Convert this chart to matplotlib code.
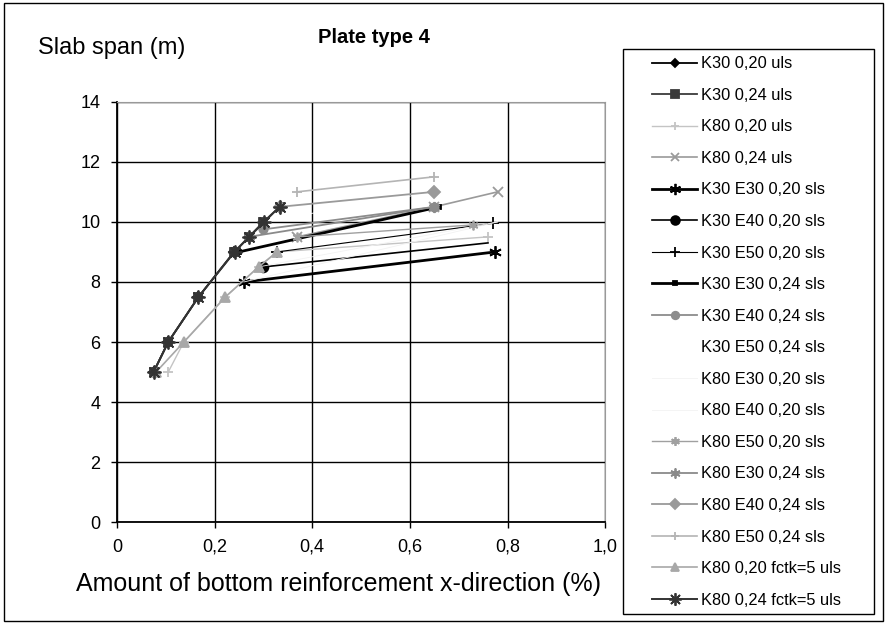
import matplotlib
matplotlib.use("Agg")
import matplotlib.pyplot as plt
from matplotlib.patches import Rectangle

plt.rcParams['font.family'] = ['Liberation Sans', 'DejaVu Sans']

# series data (x = reinforcement %, y = span m)
names = ["K30 0,20 uls", "K30 0,24 uls", "K80 0,20 uls", "K80 0,24 uls",
         "K30 E30 0,20 sls", "K30 E40 0,20 sls", "K30 E50 0,20 sls",
         "K30 E30 0,24 sls", "K30 E40 0,24 sls", "K30 E50 0,24 sls",
         "K80 E30 0,20 sls", "K80 E40 0,20 sls", "K80 E50 0,20 sls",
         "K80 E30 0,24 sls", "K80 E40 0,24 sls", "K80 E50 0,24 sls",
         "K80 0,20 fctk=5 uls", "K80 0,24 fctk=5 uls"]

xs = [
    [0.075, 0.105, 0.167, 0.24],
    [0.075, 0.105, 0.167, 0.24, 0.27, 0.30, 0.333],
    [0.105, 0.137, 0.222, 0.29, 0.328, 0.76],
    [0.369, 0.65, 0.78],
    [0.26, 0.775],
    [0.30, 0.76],
    [0.328, 0.77],
    [0.25, 0.66],
    [0.30, 0.65],
    [0.30, 0.65],
    [0.26, 0.78],
    [0.29, 0.78],
    [0.369, 0.73],
    [0.27, 0.65],
    [0.333, 0.65],
    [0.369, 0.65],
    [0.08, 0.137, 0.222, 0.29, 0.328],
    [0.075, 0.105, 0.167, 0.241, 0.271, 0.302, 0.333],
]
ys = [
    [5, 6, 7.5, 9],
    [5, 6, 7.5, 9, 9.5, 10, 10.5],
    [5, 6, 7.5, 8.5, 9, 9.5],
    [9.5, 10.5, 11],
    [8, 9],
    [8.5, 9.3],
    [9, 9.95],
    [9, 10.5],
    [9.75, 10.5],
    [10, 11],
    [8, 10],
    [8.5, 10],
    [9.5, 9.9],
    [9.5, 10.5],
    [10.5, 11],
    [11, 11.5],
    [5, 6, 7.5, 8.5, 9],
    [5, 6, 7.5, 9, 9.5, 10, 10.5],
]

# (color, marker, markersize, linewidth)
styles = [
    ("black", "D", 5, 1.3),
    ("#3a3a3a", "s", 6, 1.3),
    ("#c4c4c4", "+", 7, 1.0),
    ("#9a9a9a", "x", 7, 1.2),
    ("black", (6, 2, 0), 9, 2.0),
    ("black", "o", 7, 1.2),
    ("black", "+", 8, 0.8),
    ("black", "s", 3, 2.0),
    ("#8c8c8c", "o", 6, 1.3),
    ("white", "", 0, 0.6),
    ("#f2f2f2", "", 0, 0.6),
    ("#f2f2f2", "", 0, 0.6),
    ("#a0a0a0", (6, 2, 0), 7, 1.0),
    ("#8a8a8a", (6, 2, 0), 8, 1.3),
    ("#9a9a9a", "D", 6, 1.3),
    ("#b4b4b4", "+", 7, 1.2),
    ("#a8a8a8", "^", 7, 1.2),
    ("#333333", (8, 2, 0), 10, 1.4),
]

fig = plt.figure(figsize=(8.86, 6.24), dpi=100)
ax = fig.add_axes([0.132, 0.163, 0.551, 0.674])

handles = []
for i in range(len(names)):
    c, m, ms, lw = styles[i]
    every = [0] if names[i] == "K30 E40 0,20 sls" else None
    h, = ax.plot(xs[i], ys[i], color=c, marker=m, markersize=ms, linewidth=lw,
                 markeredgewidth=1.3, markevery=every, label=names[i], zorder=3)
    handles.append(h)

ax.set_xlim(0, 1.0)
ax.set_ylim(0, 14)
ax.set_xticks([0, 0.2, 0.4, 0.6, 0.8, 1.0])
ax.set_xticklabels(["0", "0,2", "0,4", "0,6", "0,8", "1,0"])
ax.set_yticks(range(0, 15, 2))
ax.tick_params(labelsize=13, direction='out', length=4, width=1, pad=8)
ax.grid(True, color='black', linewidth=1.0)
ax.set_axisbelow(True)
for s in ['top', 'right']:
    ax.spines[s].set_color('#999999')
for s in ['left', 'bottom']:
    ax.spines[s].set_color('black')
    ax.spines[s].set_linewidth(1.3)

fig.text(0.043, 0.923, "Slab span (m)", fontsize=17, va='center', ha='left')
fig.text(0.422, 0.94, "Plate type 4", fontsize=14.5, fontweight='bold',
         va='center', ha='center')
fig.text(0.382, 0.064, "Amount of bottom reinforcement x-direction (%)",
         fontsize=18, va='center', ha='center')

# legend box and outer frame
fig.patches.append(Rectangle((0.703, 0.016), 0.283, 0.905, transform=fig.transFigure,
                             fill=False, edgecolor='black', linewidth=1.0))
fig.patches.append(Rectangle((0.004, 0.005), 0.993, 0.99, transform=fig.transFigure,
                             fill=False, edgecolor='black', linewidth=1.0))
fig.legend(handles=handles, loc='upper left', bbox_to_anchor=(0.727, 0.923),
           frameon=False, fontsize=11.8, labelspacing=1.01, handlelength=2.75,
           handletextpad=0.2, borderpad=0, markerscale=0.9)

fig.savefig("out.png", dpi=100)
